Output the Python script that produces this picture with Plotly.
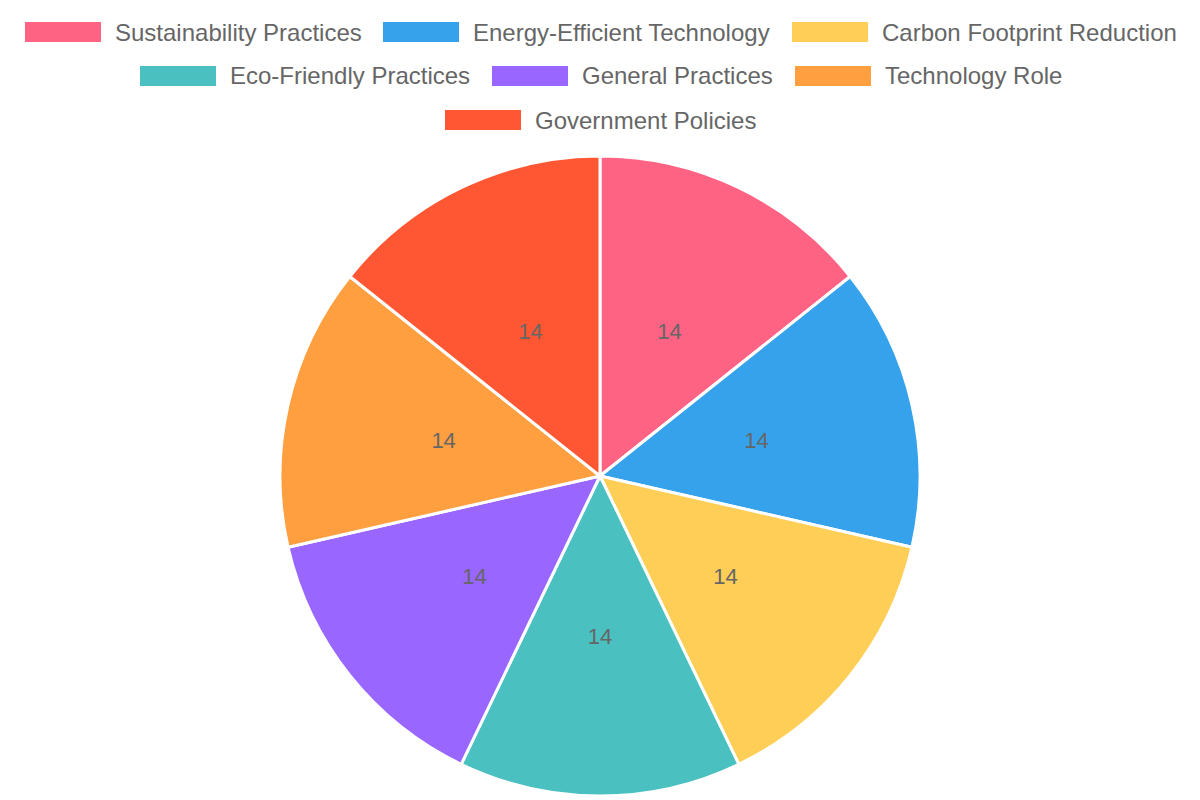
import plotly.graph_objects as go

labels = ["Sustainability Practices", "Energy-Efficient Technology", "Carbon Footprint Reduction",
          "Eco-Friendly Practices", "General Practices", "Technology Role", "Government Policies"]
values = [14, 14, 14, 14, 14, 14, 14]
colors = ["#FF6384", "#36A2EB", "#FFCE56", "#4BC0C0", "#9966FF", "#FF9F40", "#FF5733"]

W, H = 1200, 800
CX, CY, R = 600, 476, 320
R_LBL = 230  # helper pie radius so that value labels sit near half the main radius


def dom(r):
    return dict(x=[(CX - r) / W, (CX + r) / W], y=[1 - (CY + r) / H, 1 - (CY - r) / H])


fig = go.Figure()
fig.add_trace(go.Pie(
    labels=labels, values=values, sort=False, direction="clockwise", rotation=0,
    marker=dict(colors=colors, line=dict(color="#ffffff", width=3)),
    textinfo="none", domain=dom(R), showlegend=False, hoverinfo="label+value",
))
# transparent helper pie that carries the value labels
fig.add_trace(go.Pie(
    labels=labels, values=values, sort=False, direction="clockwise", rotation=0,
    marker=dict(colors=["rgba(0,0,0,0)"] * len(values), line=dict(width=0)),
    textinfo="value", textposition="inside", insidetextorientation="horizontal",
    textfont=dict(family="Liberation Sans, Arial, sans-serif", size=22, color="#666666"),
    domain=dom(R_LBL), showlegend=False, hoverinfo="skip",
))

# custom legend (Chart.js style): boxes and labels, rows centered
legend_rows = [[0, 1, 2], [3, 4, 5], [6]]
box_left = {0: 25, 1: 383, 2: 792, 3: 140, 4: 492, 5: 795, 6: 445}
row_center_y = [32, 76, 120]
shapes, annotations = [], []
for r, items in enumerate(legend_rows):
    cy = row_center_y[r]
    for i in items:
        x0 = box_left[i]
        shapes.append(dict(type="rect", xref="paper", yref="paper",
                           x0=x0 / W, x1=(x0 + 76) / W,
                           y0=1 - (cy + 10) / H, y1=1 - (cy - 10) / H,
                           fillcolor=colors[i], line=dict(width=0)))
        annotations.append(dict(xref="paper", yref="paper", x=(x0 + 88) / W, y=1 - cy / H,
                                xanchor="left", yanchor="middle", showarrow=False,
                                text=labels[i],
                                font=dict(family="Liberation Sans, Arial, sans-serif",
                                          size=24, color="#666666")))

fig.update_layout(width=W, height=H, margin=dict(l=0, r=0, t=0, b=0),
                  paper_bgcolor="white", plot_bgcolor="white",
                  shapes=shapes, annotations=annotations)
fig.write_html("out.html")
